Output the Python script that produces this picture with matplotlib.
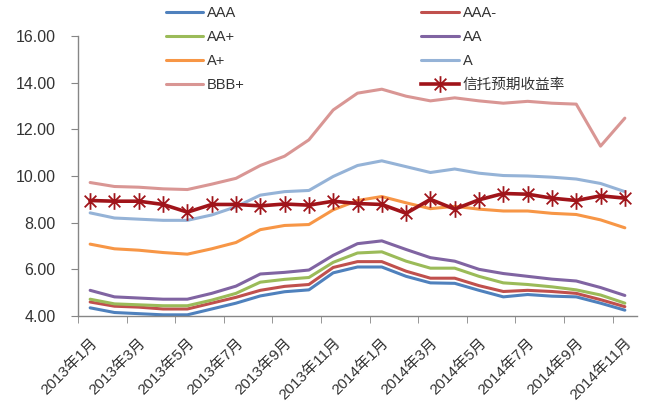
import numpy as np
import matplotlib
matplotlib.use('Agg')
import matplotlib.pyplot as plt
from matplotlib.path import Path

plt.rcParams['font.family'] = ['Liberation Sans', 'Noto Sans CJK SC', 'DejaVu Sans']

months = ['2013年1月', '2013年2月', '2013年3月', '2013年4月', '2013年5月', '2013年6月',
          '2013年7月', '2013年8月', '2013年9月', '2013年10月', '2013年11月', '2013年12月',
          '2014年1月', '2014年2月', '2014年3月', '2014年4月', '2014年5月', '2014年6月',
          '2014年7月', '2014年8月', '2014年9月', '2014年10月', '2014年11月']

aaa = [4.35, 4.15, 4.10, 4.05, 4.05, 4.30, 4.55, 4.86, 5.04, 5.12, 5.85, 6.10,
       6.10, 5.70, 5.42, 5.40, 5.10, 4.82, 4.92, 4.85, 4.82, 4.55, 4.25]
aaa_minus = [4.60, 4.42, 4.38, 4.30, 4.30, 4.55, 4.80, 5.10, 5.27, 5.35, 6.08, 6.33,
             6.33, 5.92, 5.62, 5.62, 5.30, 5.05, 5.10, 5.05, 4.97, 4.70, 4.40]
aa_plus = [4.72, 4.52, 4.48, 4.44, 4.44, 4.68, 4.97, 5.45, 5.57, 5.65, 6.30, 6.70,
           6.75, 6.35, 6.05, 6.05, 5.70, 5.42, 5.35, 5.25, 5.12, 4.90, 4.55]
aa = [5.10, 4.82, 4.77, 4.72, 4.72, 4.97, 5.28, 5.80, 5.87, 5.97, 6.60, 7.10,
      7.22, 6.85, 6.50, 6.35, 6.00, 5.82, 5.70, 5.58, 5.50, 5.22, 4.88]
a_plus = [7.08, 6.88, 6.82, 6.72, 6.65, 6.88, 7.15, 7.70, 7.88, 7.92, 8.55, 8.95,
          9.12, 8.85, 8.60, 8.70, 8.58, 8.50, 8.50, 8.40, 8.35, 8.12, 7.78]
a = [8.42, 8.20, 8.15, 8.10, 8.10, 8.33, 8.68, 9.18, 9.33, 9.38, 9.98, 10.45,
     10.65, 10.40, 10.15, 10.30, 10.12, 10.02, 10.00, 9.95, 9.87, 9.68, 9.33]
bbb_plus = [9.72, 9.55, 9.52, 9.45, 9.42, 9.65, 9.90, 10.45, 10.85, 11.55, 12.83, 13.55,
            13.72, 13.42, 13.22, 13.35, 13.22, 13.12, 13.20, 13.12, 13.08, 11.28, 12.48]
trust = [8.95, 8.92, 8.92, 8.78, 8.45, 8.78, 8.78, 8.72, 8.80, 8.75, 8.92, 8.82,
         8.78, 8.40, 9.00, 8.58, 8.98, 9.25, 9.22, 9.05, 8.95, 9.15, 9.05]

# asterisk marker: vertical bar plus two diagonals
star = Path([(0, -1), (0, 1), (-0.7, -0.7), (0.7, 0.7), (-0.7, 0.7), (0.7, -0.7)],
            [Path.MOVETO, Path.LINETO, Path.MOVETO, Path.LINETO, Path.MOVETO, Path.LINETO])

fig = plt.figure(figsize=(6.46, 4.05), dpi=100)
ax = fig.add_axes([78 / 646, 1 - 316 / 405, 559 / 646, 280 / 405])

x = np.arange(len(months))
series = [
    ('AAA', aaa, '#4F81BD'),
    ('AAA-', aaa_minus, '#C0504D'),
    ('AA+', aa_plus, '#9BBB59'),
    ('AA', aa, '#8064A2'),
    ('A+', a_plus, '#F79646'),
    ('A', a, '#95B3D7'),
    ('BBB+', bbb_plus, '#D99694'),
]
handles = {}
for name, vals, col in series:
    h, = ax.plot(x, vals, color=col, lw=2.2, label=name, solid_capstyle='round')
    handles[name] = h
h, = ax.plot(x, trust, color='#A0141A', lw=2.6, marker=star, markersize=12,
             markeredgewidth=1.3, markeredgecolor='#A0141A', label='信托预期收益率')
handles['信托预期收益率'] = h

ax.set_xlim(-0.5, len(months) - 0.5)
ax.set_ylim(4, 16)
ax.set_yticks(np.arange(4, 17, 2))
ax.set_yticklabels(['%.2f' % v for v in np.arange(4, 17, 2)], fontsize=11.5, color='#333333')

ax.set_xticks(x[::2])
ax.set_xticklabels(months[::2], rotation=45, ha='right', rotation_mode='anchor',
                   fontsize=11, color='#333333')
ax.set_xticks(np.arange(-0.5, len(months) - 1, 2), minor=True)
ax.tick_params(axis='x', which='major', length=0, pad=14)
ax.tick_params(axis='x', which='minor', length=5, color='#868686', direction='out')
ax.tick_params(axis='y', length=5, color='#868686', direction='out', pad=11)

for s in ['top', 'right']:
    ax.spines[s].set_visible(False)
for s in ['left', 'bottom']:
    ax.spines[s].set_color('#868686')
    ax.spines[s].set_linewidth(1)

order = ['AAA', 'AA+', 'A+', 'BBB+', 'AAA-', 'AA', 'A', '信托预期收益率']
fig.legend([handles[k] for k in order], order, ncol=2, loc='upper left',
           bbox_to_anchor=(166 / 646, 1 - 6 / 405), frameon=False, fontsize=10.5,
           handlelength=2.55, handletextpad=0.27, columnspacing=12.1,
           labelspacing=0.68, borderpad=0, borderaxespad=0, labelcolor='#333333')

fig.savefig('out.png', dpi=100)
